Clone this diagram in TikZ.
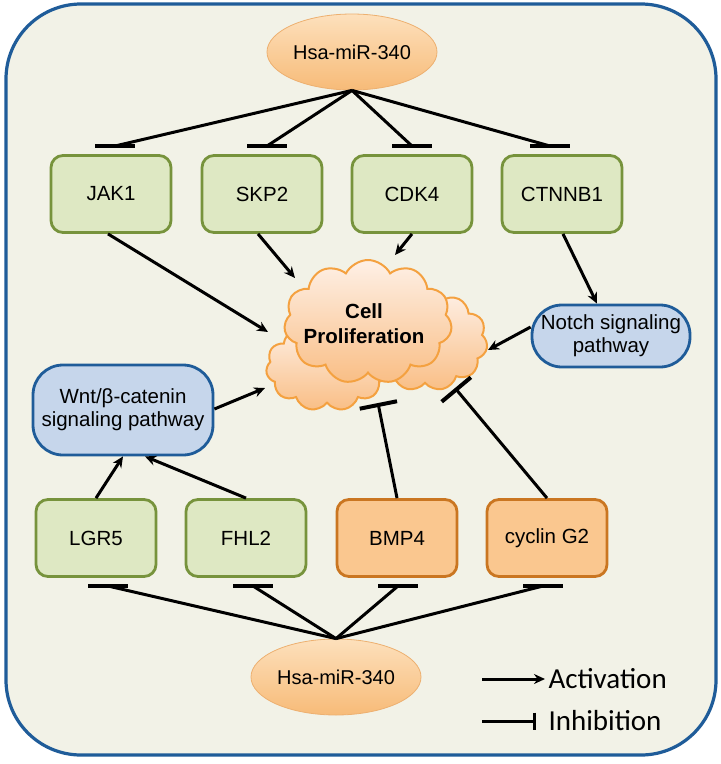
\documentclass[tikz,border=0pt]{standalone}
\usepackage{fontspec}
\setmainfont{Liberation Sans}
\newfontfamily\legendfont{Carlito}
\usetikzlibrary{shapes.geometric,shapes.symbols,arrows.meta}
\definecolor{bgc}{HTML}{F2F2E7}
\definecolor{framec}{HTML}{1F5C99}
\definecolor{gfill}{HTML}{DEE8C3}
\definecolor{gdraw}{HTML}{77933C}
\definecolor{ofill}{HTML}{FAC78F}
\definecolor{odraw}{HTML}{CA7621}
\definecolor{bfill}{HTML}{C6D6EB}
\definecolor{bdraw}{HTML}{1F5C99}
\definecolor{ctop}{HTML}{FEF0E6}
\definecolor{cbot}{HTML}{F9BE85}
\definecolor{cdraw}{HTML}{F4A140}
\definecolor{etop}{HTML}{FDE0BC}
\definecolor{ebot}{HTML}{F7BB78}
\definecolor{edraw}{HTML}{EDB070}
\begin{document}
\begin{tikzpicture}[x=1pt,y=-1pt,
  gene/.style={draw=gdraw, fill=gfill, line width=2.8pt, rounded corners=12pt,
    minimum width=120pt, minimum height=77pt, font=\fontsize{20.5}{23}\selectfont},
  ogene/.style={gene, draw=odraw, fill=ofill},
  pathbox/.style={draw=bdraw, fill=bfill, line width=2.8pt, rounded corners=30pt,
    align=center, inner sep=0pt, font=\fontsize{20.5}{23}\selectfont},
  mir/.style={ellipse, top color=etop, bottom color=ebot, draw=edraw, line width=0.8pt,
    minimum width=170pt, minimum height=76pt, inner sep=0pt, font=\fontsize{20}{22}\selectfont},
  cloudbox/.style={cloud, cloud puffs=11, cloud puff arc=125, aspect=1.35, inner sep=0pt,
    draw=cdraw, line width=2pt, top color=ctop, bottom color=cbot},
  act/.style={line width=3pt, -{Stealth[length=11pt,width=10pt]}},
  inh/.style={line width=3pt},
  tbar/.style={line width=4pt},
  inhc/.style={line width=3pt, -{Bar[width=38pt,line width=4pt]}}
]
\useasboundingbox (0,0) rectangle (721,764);
\draw[framec, line width=3.2pt, fill=bgc, rounded corners=75pt] (6,4) rectangle (716,755);

% miRNA ellipses
\node[mir] (mirT) at (352,52) {Hsa-miR-340};
\node[mir] (mirB) at (336,677) {Hsa-miR-340};

% top genes
\node[gene] (JAK1) at (111,194) {JAK1};
\node[gene] (SKP2) at (262,194) {SKP2};
\node[gene] (CDK4) at (412,194) {CDK4};
\node[gene] (CTNNB1) at (562,194) {CTNNB1};

% bottom genes
\node[gene] (LGR5) at (96,538) {LGR5};
\node[gene] (FHL2) at (246,538) {FHL2};
\node[ogene] (BMP4) at (397,538) {BMP4};
\node[ogene] (CG2) at (547,538) {cyclin G2};

% pathways
\node[pathbox, minimum width=180pt, minimum height=90pt] (Wnt) at (123,410) {Wnt/β-catenin\\signaling pathway};
\node[pathbox, minimum width=158pt, minimum height=62pt] (Notch) at (611,336) {Notch signaling\\pathway};

% clouds
\node[cloudbox, minimum width=125pt, minimum height=100pt] (cloudR) at (425,341) {};
\node[cloudbox, minimum width=122pt, minimum height=88pt] (cloudL) at (327,367) {};
\node[cloudbox, minimum width=168pt, minimum height=124pt] (cloudF) at (368,322) {};
\node[align=center, font=\bfseries\fontsize{20.5}{25}\selectfont] (cpl) at (364,324) {Cell\\Proliferation};

% inhibition bar positions
\coordinate (tJ) at (115,146);
\coordinate (tS) at (267,146);
\coordinate (tC) at (412,146);
\coordinate (tT) at (550,146);
\coordinate (bL) at (108,586);
\coordinate (bF) at (253,586);
\coordinate (bB) at (398,586);
\coordinate (bG) at (543,586);

\foreach \c in {tJ,tS,tC,tT}{
  \draw[inh] (mirT.south) -- (\c);
  \draw[tbar] ([xshift=-20pt]\c) -- ([xshift=20pt]\c);
}
\foreach \c in {bL,bF,bB,bG}{
  \draw[inh] (mirB.north) -- (\c);
  \draw[tbar] ([xshift=-20pt]\c) -- ([xshift=20pt]\c);
}

% activation ends near cloud
\coordinate (cJ) at (268,332);
\coordinate (cS) at (295,278);
\coordinate (cC) at (395,255);
\coordinate (cN) at (488,350);
\coordinate (cW) at (265,388);
\coordinate (cB) at (378,403);
\coordinate (cG) at (455,388);

\draw[act] ([xshift=-3pt]JAK1.south) -- (cJ);
\draw[act] ([xshift=-4pt]SKP2.south) -- (cS);
\draw[act] (CDK4.south) -- (cC);
\draw[act] ([xshift=1pt]CTNNB1.south) -- ([xshift=-14pt]Notch.north);
\draw[act] ([yshift=9pt]Notch.west) -- (cN);
\draw[act] ([yshift=1pt]Wnt.east) -- (cW);
\draw[act] (LGR5.north) -- (Wnt.south);
\draw[act] (FHL2.north) -- ([xshift=22pt]Wnt.south);
\draw[inhc] (BMP4.north) -- (cB);
\draw[inhc] (CG2.north) -- (cG);

% legend
\coordinate (la) at (482,679);
\coordinate (li) at (482,721);
\node[anchor=west, font=\legendfont\fontsize{29}{32}\selectfont] (lact) at (545,679) {Activation};
\node[anchor=west, font=\legendfont\fontsize{29}{32}\selectfont] (linh) at (545,721) {Inhibition};
\draw[act] (la) -- (lact.west);
\draw[line width=3pt, -{Bar[width=17pt,line width=3.5pt]}, shorten >=9pt] (li) -- (linh.west);
\end{tikzpicture}
\end{document}
